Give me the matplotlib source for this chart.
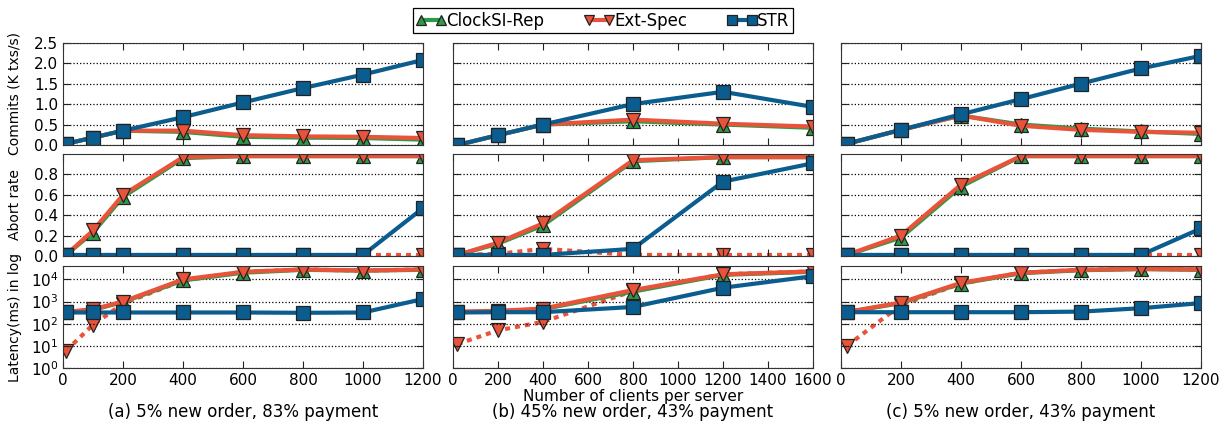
#!/usr/bin/env python3

import matplotlib
matplotlib.use('Agg')
import matplotlib.pyplot as plt
from matplotlib.ticker import LogLocator, NullFormatter

plt.rcParams['font.family'] = 'DejaVu Sans'

# colours / names of the three systems
names = ['ClockSI-Rep', 'Ext-Spec', 'STR']
green = '#2e9a48'
red = '#e8533a'
blue = '#0b5d8f'

# (a) 5% new order, 83% payment
xa = [10, 100, 200, 400, 600, 800, 1000, 1200]
commit_clock_a = [0.03, 0.18, 0.35, 0.32, 0.20, 0.18, 0.17, 0.13]
commit_spec_a = [0.03, 0.18, 0.35, 0.35, 0.24, 0.21, 0.20, 0.17]
commit_str_a = [0.03, 0.18, 0.35, 0.68, 1.04, 1.39, 1.72, 2.08]
abort_clock_a = [0.01, 0.23, 0.58, 0.96, 0.98, 0.98, 0.98, 0.98]
abort_spec_a = [0.01, 0.25, 0.60, 0.97, 0.98, 0.98, 0.98, 0.98]
abort_spec2_a = [0.01, 0.01, 0.01, 0.01, 0.01, 0.01, 0.01, 0.01]
abort_str_a = [0.01, 0.01, 0.01, 0.01, 0.01, 0.01, 0.01, 0.47]
lat_clock_a = [330, 420, 950, 9000, 20000, 27000, 25000, 27000]
lat_spec_a = [340, 450, 1000, 10000, 22000, 28000, 25000, 28000]
lat_spec2_a = [6, 90, 800, 9000, 22000, 28000, 25000, 28000]
lat_str_a = [320, 320, 320, 320, 320, 310, 320, 1300]

# (b) 45% new order, 43% payment
xb = [20, 200, 400, 800, 1200, 1600]
commit_clock_b = [0.0, 0.24, 0.50, 0.58, 0.50, 0.42]
commit_spec_b = [0.0, 0.24, 0.50, 0.62, 0.52, 0.45]
commit_str_b = [0.0, 0.24, 0.50, 1.00, 1.30, 0.93]
abort_clock_b = [0.01, 0.12, 0.30, 0.93, 0.97, 0.97]
abort_spec_b = [0.01, 0.13, 0.32, 0.94, 0.97, 0.97]
abort_spec2_b = [0.01, 0.02, 0.07, 0.01, 0.01, 0.01]
abort_str_b = [0.01, 0.01, 0.01, 0.07, 0.73, 0.91]
lat_clock_b = [330, 360, 450, 2800, 16000, 22000]
lat_spec_b = [350, 380, 480, 3300, 17000, 23000]
lat_spec2_b = [12, 50, 120, 3000, 17000, 23000]
lat_str_b = [320, 330, 330, 570, 4200, 14000]

# (c) 5% new order, 43% payment
xc = [20, 200, 400, 600, 800, 1000, 1200]
commit_clock_c = [0.03, 0.37, 0.72, 0.50, 0.40, 0.33, 0.27]
commit_spec_c = [0.03, 0.37, 0.72, 0.47, 0.37, 0.32, 0.30]
commit_str_c = [0.03, 0.37, 0.75, 1.12, 1.50, 1.87, 2.18]
abort_clock_c = [0.01, 0.18, 0.68, 0.98, 0.98, 0.98, 0.98]
abort_spec_c = [0.01, 0.20, 0.70, 0.98, 0.98, 0.98, 0.98]
abort_spec2_c = [0.01, 0.01, 0.01, 0.01, 0.01, 0.01, 0.01]
abort_str_c = [0.01, 0.01, 0.01, 0.01, 0.01, 0.01, 0.27]
lat_clock_c = [330, 850, 6500, 19000, 26000, 29000, 27000]
lat_spec_c = [340, 900, 7000, 20000, 27000, 30000, 28000]
lat_spec2_c = [10, 700, 6500, 20000, 27000, 30000, 28000]
lat_str_c = [330, 330, 330, 330, 350, 500, 850]

columns = [
	(xa, 1200, '(a) 5% new order, 83% payment',
	 [commit_clock_a, commit_spec_a, commit_str_a],
	 [abort_clock_a, abort_spec_a, abort_str_a, abort_spec2_a],
	 [lat_clock_a, lat_spec_a, lat_str_a, lat_spec2_a]),
	(xb, 1600, '(b) 45% new order, 43% payment',
	 [commit_clock_b, commit_spec_b, commit_str_b],
	 [abort_clock_b, abort_spec_b, abort_str_b, abort_spec2_b],
	 [lat_clock_b, lat_spec_b, lat_str_b, lat_spec2_b]),
	(xc, 1200, '(c) 5% new order, 43% payment',
	 [commit_clock_c, commit_spec_c, commit_str_c],
	 [abort_clock_c, abort_spec_c, abort_str_c, abort_spec2_c],
	 [lat_clock_c, lat_spec_c, lat_str_c, lat_spec2_c]),
]

styles = [
	dict(color=green, marker='^', markerfacecolor=green),
	dict(color=red, marker='v', markerfacecolor=red),
	dict(color=blue, marker='s', markerfacecolor=blue),
]

fig = plt.figure(figsize=(12.22, 4.21), dpi=100)

lefts = [0.0516, 0.3707, 0.6882]
width = 0.2946
rows = [(0.6556, 0.2430), (0.3920, 0.2420), (0.1260, 0.2420)]


def style_axis(ax, show_x, show_y):
	ax.tick_params(direction='in', top=True, right=True, labelsize=11,
				   length=5, width=0.8, colors='#222222', labelcolor='black')
	ax.tick_params(which='minor', direction='in', length=2.5, right=True)
	ax.yaxis.grid(True, linestyle=':', color='black', linewidth=0.9)
	for s in ax.spines.values():
		s.set_color('#333333')
	if not show_x:
		ax.set_xticklabels([])
	if not show_y:
		ax.set_yticklabels([])
		ax.yaxis.set_minor_formatter(NullFormatter())


handles = []
for ci, (xs, xmax, caption, commits, aborts, lats) in enumerate(columns):
	ax1 = fig.add_axes([lefts[ci], rows[0][0], width, rows[0][1]])
	ax2 = fig.add_axes([lefts[ci], rows[1][0], width, rows[1][1]])
	ax3 = fig.add_axes([lefts[ci], rows[2][0], width, rows[2][1]])

	for k in range(3):
		h, = ax1.plot(xs, commits[k], linewidth=3, markersize=10,
					  markeredgecolor='#222222', markeredgewidth=0.9, **styles[k])
		if ci == 0:
			handles.append(h)
		ax2.plot(xs, aborts[k], linewidth=3, markersize=10,
				 markeredgecolor='#222222', markeredgewidth=0.9, **styles[k])
		ax3.plot(xs, lats[k], linewidth=3, markersize=10,
				 markeredgecolor='#222222', markeredgewidth=0.9, **styles[k])
	# speculative Ext-Spec (dotted)
	ax2.plot(xs, aborts[3], linewidth=3, linestyle=(0, (1.2, 1.2)), markersize=10,
			 markeredgecolor='#222222', markeredgewidth=0.9, zorder=1, **styles[1])
	ax3.plot(xs, lats[3], linewidth=3, linestyle=(0, (1.2, 1.2)), markersize=10,
			 markeredgecolor='#222222', markeredgewidth=0.9, zorder=1, **styles[1])

	ax1.set_ylim(0, 2.5)
	ax1.set_yticks([0.0, 0.5, 1.0, 1.5, 2.0, 2.5])
	ax2.set_ylim(0, 1.0)
	ax2.set_yticks([0.0, 0.2, 0.4, 0.6, 0.8])
	ax3.set_yscale('log')
	ax3.set_ylim(1, 4e4)
	ax3.set_yticks([1, 10, 100, 1000, 10000])
	ax3.yaxis.set_minor_locator(LogLocator(base=10, subs=range(2, 10)))

	for ax in (ax1, ax2, ax3):
		ax.set_xlim(0, xmax)
		ax.set_xticks(range(0, xmax + 1, 200))
		style_axis(ax, ax is ax3, ci == 0)

	if ci == 0:
		ax1.set_ylabel('Commits (K txs/s)', fontsize=10)
		ax2.set_ylabel('Abort rate', fontsize=10)
		ax3.set_ylabel('Latency(ms) in log', fontsize=10)
		for ax in (ax1, ax2, ax3):
			ax.yaxis.set_label_coords(-0.115, 0.5)
	if ci == 1:
		ax3.set_xlabel('Number of clients per server', fontsize=11, labelpad=0.5)

	fig.text(lefts[ci] + width / 2, 0.010, caption, ha='center', fontsize=12)

leg = fig.legend(handles, names, loc='upper center', bbox_to_anchor=(0.4935, 1.0),
				 ncol=3, fontsize=12, numpoints=2, markerscale=0.7,
				 handlelength=1.8, handletextpad=0.0, columnspacing=2.4,
				 borderpad=0.2, fancybox=False, framealpha=1)
leg.get_frame().set_edgecolor('black')
leg.get_frame().set_linewidth(0.9)

plt.savefig('out.png', dpi=100)
